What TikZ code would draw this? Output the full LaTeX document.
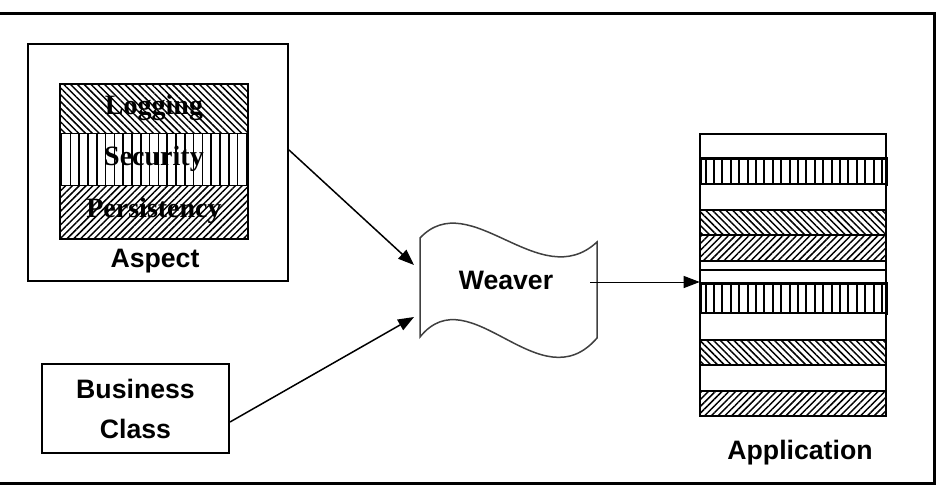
\documentclass[tikz,border=0pt]{standalone}
\usepackage{fontspec}
\setmainfont{Liberation Serif}
\setsansfont{Liberation Sans}
\usetikzlibrary{patterns.meta,arrows.meta}
\newcommand{\pxl}{0.75pt}
\tikzset{
  box/.style={draw,line width=2*\pxl,inner sep=0pt},
  lbl/.style={font=\sffamily\bfseries\fontsize{20}{30}\selectfont},
  layer/.style={font=\rmfamily\bfseries\fontsize{21}{24}\selectfont},
  flow/.style={line width=1.5*\pxl,-{Triangle[length=12pt,width=9pt]}},
  nwband/.style={pattern={Lines[angle=-45,distance=3.6pt,line width=1.1pt]}},
  neband/.style={pattern={Lines[angle=45,distance=3.6pt,line width=1.1pt]}},
  vband/.style={pattern={Lines[angle=90,distance=6.6pt,line width=1.2pt]}},
  vcol/.style={pattern={Lines[angle=90,distance=6.3pt,line width=1.5pt]},line width=3*\pxl},
  wband/.style={fill=white},
}
\begin{document}
\begin{tikzpicture}[x=\pxl,y=-\pxl]
\useasboundingbox (0,0) rectangle (941,489);
% frame
\draw[line width=3*\pxl] (0,13) -- (934,13) -- (934,483) -- (0,483);

% aspect
\node[box, minimum width=260*\pxl, minimum height=237*\pxl] (aspect) at (158,162.5) {};
\foreach \ya/\yb/\kind in {84/133/nwband,133/185/vband,185/239/neband} {
\draw[line width=\pxl,\kind] (60,\ya) rectangle (248,\yb);
}
\draw[line width=2*\pxl] (60,84) rectangle (248,239);
\node[layer] (logging) at (154,108) {Logging};
\node[layer] (security) at (154,159) {Security};
\node[layer] (persist) at (154,211) {Persistency};
\node[lbl] (aspectlbl) at (155,261) {Aspect};

% business class
\node[box, lbl, align=center, minimum width=187*\pxl, minimum height=89*\pxl] (business) at (135.5,408.5) {Business\\Class};

% weaver
\draw[line width=1.5*\pxl, black!75] (420,238) .. controls (470,185) and (540,295) .. (597,242)
  -- (597,338) .. controls (540,404) and (470,275) .. (420,337) -- cycle;
\node[lbl] (weaver) at (506,280) {Weaver};
\coordinate (win1) at (414,265);
\coordinate (win2) at (414,317);
\coordinate (wout) at (590,282);

% application
\foreach \ya/\yb/\kind in {134/158/wband,158/184/vcol,184/210/wband,210/235/nwband,
  235/261/neband,261/270/wband,270/283/wband,283/313/vcol,313/340/wband,
  340/365/nwband,365/391/wband,391/416/neband} {
\draw[line width=1.5*\pxl,\kind] (700,\ya) rectangle (886,\yb);
}
\draw[line width=2*\pxl] (700,134) rectangle (886,416);
\node[minimum width=186*\pxl, minimum height=282*\pxl] (app) at (793,275) {};
\node[lbl] (applbl) at (800,453) {Application};

% arrows
\draw[flow] (aspect.east |- 0,150) -- (win1);
\draw[flow] (business.east |- 0,422) -- (win2);
\draw[flow,line width=\pxl] (wout) -- (app.west |- wout);
\end{tikzpicture}
\end{document}
